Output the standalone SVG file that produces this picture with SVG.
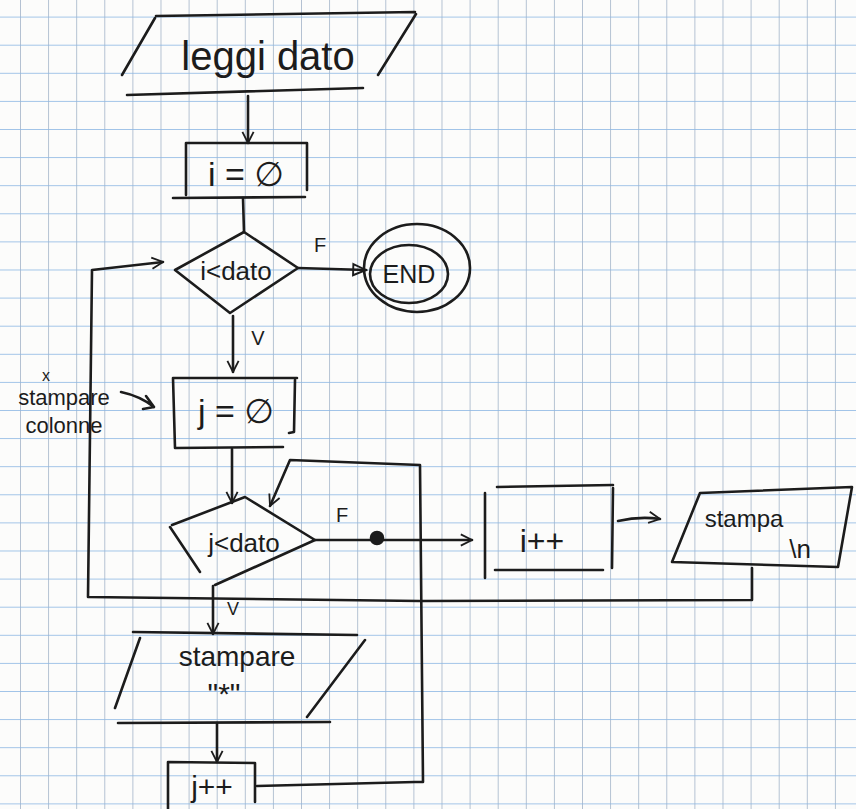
<svg xmlns="http://www.w3.org/2000/svg" width="856" height="809" viewBox="0 0 856 809">
<style>
.ink{fill:none;stroke:#1c1c1c;stroke-width:2.6;stroke-linecap:round;stroke-linejoin:round}
.t{font-family:"Liberation Sans","DejaVu Sans",sans-serif;fill:#1c1c1c;text-anchor:middle}
</style>
<defs>
<pattern id="grid" x="20" y="16.6" width="28.1" height="28.1" patternUnits="userSpaceOnUse">
<line x1="0" y1="0" x2="0" y2="28.1" stroke="#a3b4c8" stroke-width="1.6"/>
<line x1="0" y1="0" x2="28.1" y2="0" stroke="#8db7e3" stroke-width="1.6"/>
</pattern>
<marker id="open" viewBox="0 0 20 20" refX="18" refY="10" markerWidth="14" markerHeight="14" markerUnits="userSpaceOnUse" orient="auto">
<path d="M2,2 L18,10 L2,18" fill="none" stroke="#1c1c1c" stroke-width="2.6"/>
</marker>
<marker id="tri" viewBox="0 0 20 20" refX="18" refY="10" markerWidth="16" markerHeight="16" markerUnits="userSpaceOnUse" orient="auto">
<path d="M2,3 L18,10 L2,17 Z" fill="none" stroke="#1c1c1c" stroke-width="2.4"/>
</marker>
</defs>
<rect width="856" height="809" fill="#fcfcfb"/>
<rect width="856" height="809" fill="url(#grid)"/>

<g id="connectors" class="ink">
<path d="M248,96 L248,143" marker-end="url(#open)"/>
<path d="M243,198 L244,232"/>
<path d="M298,268 L366,270" marker-end="url(#tri)"/>
<path d="M233,316 L233,372" marker-end="url(#open)"/>
<path d="M752,568 L752,600 L420,601 L88,597 L92,270 L163,262" marker-end="url(#open)"/>
<path d="M121,392 Q140,396 154,407 M146,396 L154,407 L143,409"/>
<path d="M232,449 L232,503" marker-end="url(#open)"/>
<path d="M315,540 L472,540" marker-end="url(#open)"/>
<circle cx="377" cy="538" r="6" fill="#1c1c1c"/>
<path d="M257,786 L415,782 L423,782 L420,465 L290,460 L270,506" marker-end="url(#open)"/>
<path d="M618,521 Q640,516 660,519" marker-end="url(#open)"/>
<path d="M213,586 L213,634" marker-end="url(#open)"/>
<path d="M217,723 L217,762" marker-end="url(#open)"/>
</g>

<g id="leggi_dato">
<path class="ink" d="M156,16 L415,12 M416,14 L378,75 M155,18 L122,75 M127,95 L363,88"/>
<text class="t" x="268" y="70" font-size="40">leggi dato</text>
</g>

<g id="i_init">
<path class="ink" d="M186,143 L307,143 L307,190 M186,143 L186,195 M173,198 L305,197"/>
<text class="t" x="246" y="186" font-size="34">i = ∅</text>
</g>

<g id="i_cond">
<path class="ink" d="M175,270 L244,232 L298,268 L230,313 L175,270 Z"/>
<text class="t" x="236" y="280" font-size="26">i&lt;dato</text>
<text class="t" x="320" y="252" font-size="20">F</text>
<text class="t" x="258" y="345" font-size="20">V</text>
</g>

<g id="end">
<ellipse class="ink" cx="417" cy="268" rx="53" ry="44"/>
<ellipse class="ink" cx="409" cy="274" rx="39" ry="29"/>
<text class="t" x="409" y="283" font-size="25">END</text>
</g>

<g id="note">
<text class="t" x="46" y="381" font-size="16">x</text>
<text class="t" x="64" y="405" font-size="22">stampare</text>
<text class="t" x="64" y="433" font-size="22">colonne</text>
</g>

<g id="j_init">
<path class="ink" d="M173,378 L297,378 M295,380 L294,432 L289,433 M173,378 L175,448 M175,448 L283,447"/>
<text class="t" x="236" y="423" font-size="34">j = ∅</text>
</g>

<g id="j_cond">
<path class="ink" d="M172,525 L245,497 L315,540 L215,585 M170,527 L200,572"/>
<text class="t" x="244" y="552" font-size="26">j&lt;dato</text>
<text class="t" x="342" y="522" font-size="20">F</text>
<text class="t" x="233" y="615" font-size="18">V</text>
</g>

<g id="i_inc">
<path class="ink" d="M485,493 L485,578 M497,487 L613,485 M613,488 L612,568 M495,570 L603,570"/>
<text class="t" x="542" y="552" font-size="32">i++</text>
</g>

<g id="stampa_n">
<path class="ink" d="M700,493 L852,487 L838,567 L672,562 Z"/>
<text class="t" x="744" y="527" font-size="24">stampa</text>
<text class="t" x="800" y="558" font-size="26">\n</text>
</g>

<g id="stampare_star">
<path class="ink" d="M133,632 L357,635 M140,638 L115,708 M365,640 L307,717 M118,723 L330,722"/>
<text class="t" x="237" y="666" font-size="28">stampare</text>
<text class="t" x="224" y="704" font-size="30">"*"</text>
</g>

<g id="j_inc">
<path class="ink" d="M168,762 L255,763 L255,802 M168,762 L168,809"/>
<text class="t" x="212" y="797" font-size="30">j++</text>
</g>
</svg>
